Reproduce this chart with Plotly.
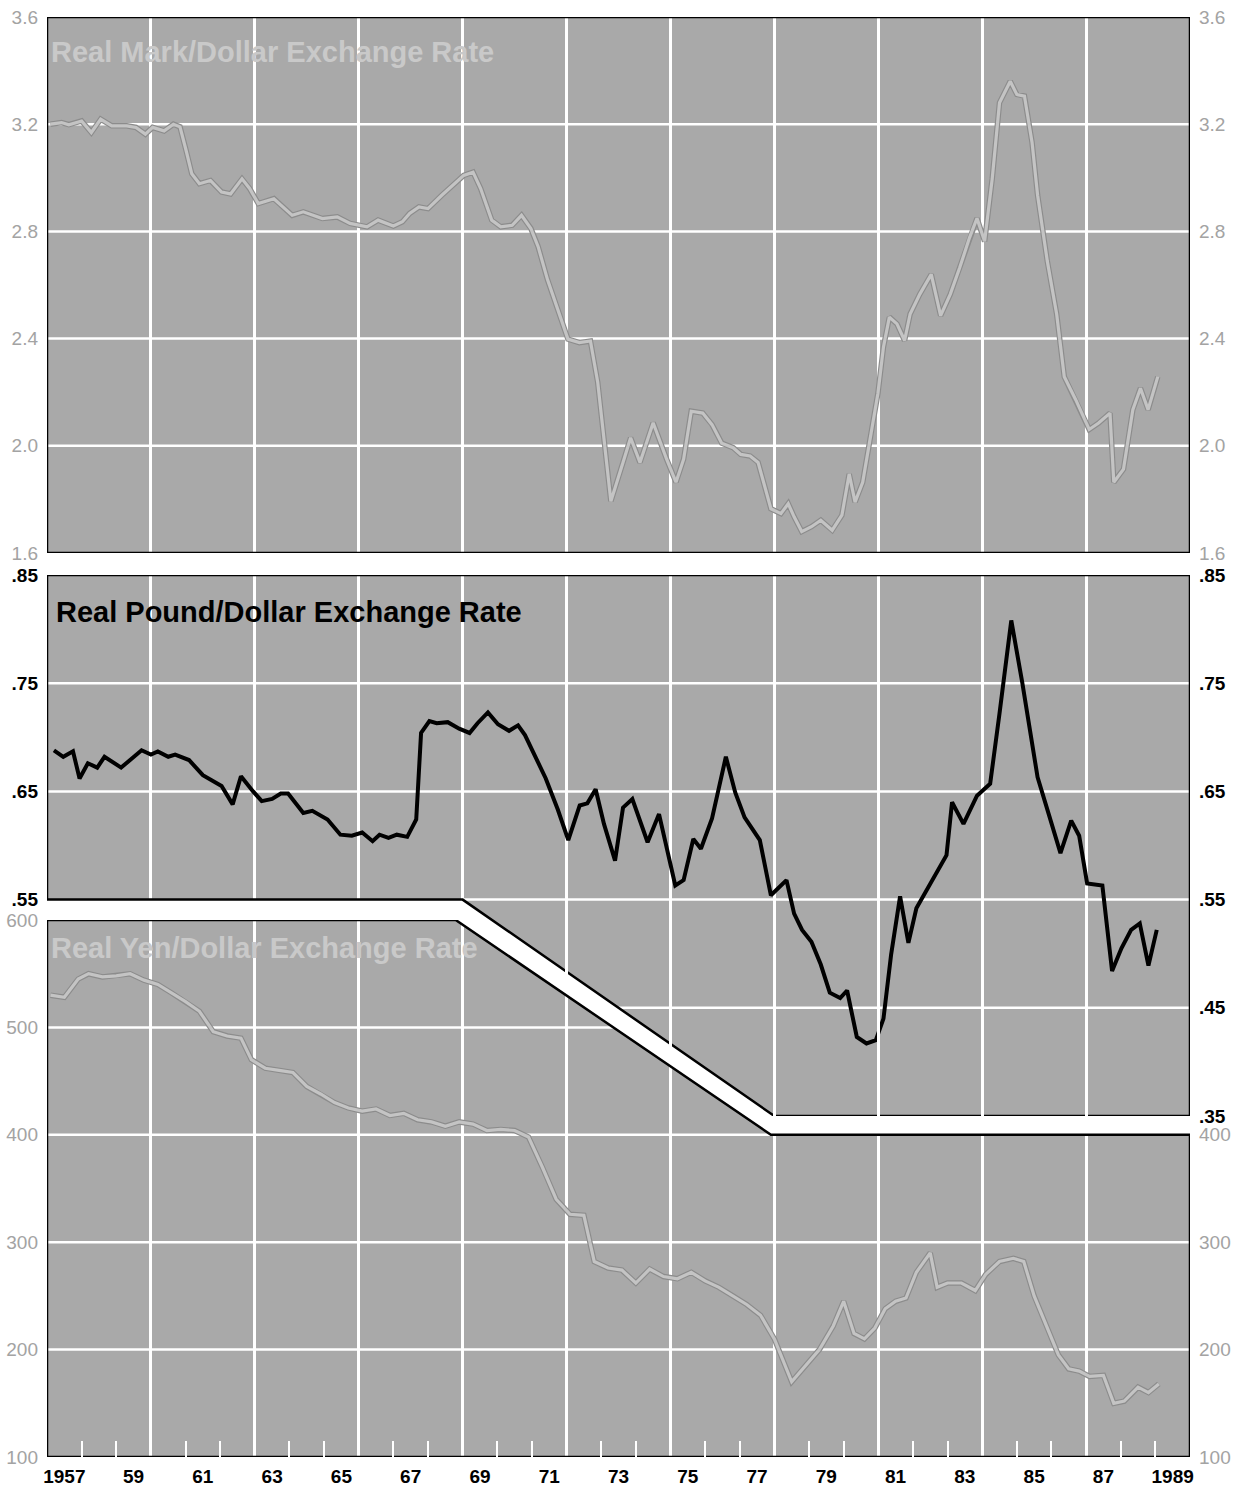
import plotly.graph_objects as go

# ---------------- data ----------------
mark_years = [1957.1, 1957.42, 1957.63, 1958.0, 1958.28, 1958.55, 1958.87, 1959.3, 1959.57, 1959.84,
              1960.05, 1960.38, 1960.65, 1960.84, 1961.02, 1961.18, 1961.4, 1961.72, 1962.04, 1962.3,
              1962.63, 1962.85, 1963.1, 1963.55, 1964.08, 1964.4, 1964.95, 1965.38, 1965.75, 1966.24,
              1966.56, 1967.0, 1967.26, 1967.47, 1967.74, 1968.0, 1968.39, 1968.76, 1969.03, 1969.3,
              1969.52, 1969.84, 1970.1, 1970.43, 1970.7, 1970.97, 1971.18, 1971.45, 1971.77, 1972.04,
              1972.37, 1972.69, 1972.9, 1973.12, 1973.28, 1973.63, 1973.85, 1974.12, 1974.5, 1974.89,
              1975.16, 1975.38, 1975.6, 1975.93, 1976.2, 1976.48, 1976.81, 1977.03, 1977.3, 1977.53,
              1977.7, 1977.9, 1978.19, 1978.4, 1978.57, 1978.79, 1979.07, 1979.34, 1979.67, 1979.95,
              1980.16, 1980.33, 1980.55, 1980.77, 1980.99, 1981.15, 1981.32, 1981.54, 1981.76, 1981.92,
              1982.2, 1982.53, 1982.8, 1983.08, 1983.35, 1983.63, 1983.85, 1984.07, 1984.29, 1984.5,
              1984.81, 1985.0, 1985.22, 1985.44, 1985.6, 1985.88, 1986.15, 1986.37, 1986.7, 1987.09,
              1987.36, 1987.69, 1987.8, 1988.08, 1988.35, 1988.57, 1988.79, 1989.07]
mark_values = [3.20, 3.206, 3.198, 3.212, 3.169, 3.219, 3.194, 3.194, 3.188, 3.163,
               3.188, 3.175, 3.20, 3.19, 3.10, 3.015, 2.978, 2.99, 2.947, 2.94,
               2.996, 2.96, 2.904, 2.922, 2.86, 2.873, 2.848, 2.854, 2.83, 2.817,
               2.842, 2.82, 2.836, 2.867, 2.891, 2.885, 2.934, 2.978, 3.009, 3.021,
               2.96, 2.842, 2.817, 2.823, 2.86, 2.811, 2.743, 2.62, 2.496, 2.398,
               2.385, 2.391, 2.237, 1.99, 1.793, 1.938, 2.03, 1.938, 2.086, 1.95,
               1.864, 1.95, 2.129, 2.122, 2.079, 2.01, 1.993, 1.968, 1.962, 1.938,
               1.858, 1.765, 1.747, 1.784, 1.735, 1.68, 1.698, 1.722, 1.685, 1.741,
               1.895, 1.79, 1.864, 2.024, 2.196, 2.369, 2.48, 2.455, 2.393, 2.492,
               2.566, 2.64, 2.486, 2.566, 2.664, 2.775, 2.849, 2.763, 2.997, 3.28,
               3.36, 3.311, 3.305, 3.132, 2.935, 2.689, 2.492, 2.258, 2.172, 2.061,
               2.085, 2.122, 1.864, 1.913, 2.135, 2.215, 2.135, 2.258]

pound_years = [1957.2, 1957.47, 1957.75, 1957.94, 1958.18, 1958.45, 1958.66, 1959.14, 1959.73, 1960.0,
               1960.2, 1960.5, 1960.7, 1961.1, 1961.5, 1962.04, 1962.36, 1962.6, 1962.95, 1963.2,
               1963.5, 1963.75, 1963.96, 1964.4, 1964.66, 1965.1, 1965.47, 1965.8, 1966.1, 1966.4,
               1966.6, 1966.86, 1967.1, 1967.4, 1967.66, 1967.8, 1968.04, 1968.25, 1968.57, 1968.9,
               1969.2, 1969.43, 1969.73, 1970.02, 1970.34, 1970.6, 1970.8, 1971.1, 1971.4, 1971.75,
               1972.05, 1972.38, 1972.6, 1972.84, 1973.08, 1973.4, 1973.63, 1973.9, 1974.34, 1974.67,
               1975.14, 1975.38, 1975.66, 1975.88, 1976.2, 1976.6, 1976.87, 1977.14, 1977.58, 1977.9,
               1978.35, 1978.57, 1978.8, 1979.07, 1979.34, 1979.6, 1979.9, 1980.1, 1980.38, 1980.66,
               1980.93, 1981.15, 1981.37, 1981.63, 1981.87, 1982.1, 1982.42, 1982.7, 1982.97, 1983.13,
               1983.46, 1983.85, 1984.23, 1984.5, 1984.84, 1985.16, 1985.6, 1985.93, 1986.26, 1986.57,
               1986.8, 1987.03, 1987.47, 1987.75, 1988.02, 1988.3, 1988.55, 1988.8, 1989.04]
pound_values = [0.688, 0.682, 0.687, 0.662, 0.676, 0.672, 0.682, 0.672, 0.688, 0.684,
                0.687, 0.682, 0.684, 0.679, 0.665, 0.655, 0.638, 0.664, 0.650, 0.641,
                0.643, 0.648, 0.648, 0.630, 0.632, 0.624, 0.610, 0.609, 0.612, 0.604,
                0.610, 0.607, 0.610, 0.608, 0.624, 0.704, 0.715, 0.713, 0.714, 0.708,
                0.704, 0.713, 0.723, 0.712, 0.706, 0.711, 0.702, 0.681, 0.662, 0.633,
                0.605, 0.637, 0.639, 0.652, 0.620, 0.586, 0.635, 0.643, 0.603, 0.629,
                0.563, 0.568, 0.606, 0.597, 0.625, 0.682, 0.649, 0.626, 0.605, 0.554,
                0.568, 0.537, 0.522, 0.511, 0.490, 0.464, 0.459, 0.466, 0.423, 0.417,
                0.420, 0.440, 0.499, 0.553, 0.510, 0.542, 0.560, 0.577, 0.591, 0.640,
                0.620, 0.646, 0.657, 0.722, 0.808, 0.750, 0.663, 0.628, 0.593, 0.623,
                0.609, 0.565, 0.563, 0.484, 0.505, 0.522, 0.528, 0.489, 0.522]

yen_years = [1957.1, 1957.5, 1957.9, 1958.2, 1958.6, 1959.0, 1959.4, 1959.8, 1960.2, 1960.6,
             1961.0, 1961.4, 1961.8, 1962.2, 1962.6, 1962.9, 1963.3, 1963.7, 1964.1, 1964.5,
             1964.9, 1965.3, 1965.7, 1966.1, 1966.5, 1966.9, 1967.3, 1967.7, 1968.1, 1968.5,
             1968.9, 1969.3, 1969.7, 1970.1, 1970.5, 1970.9, 1971.3, 1971.7, 1972.1, 1972.5,
             1972.8, 1973.2, 1973.6, 1974.0, 1974.4, 1974.8, 1975.2, 1975.6, 1976.0, 1976.4,
             1976.8, 1977.2, 1977.6, 1978.0, 1978.5, 1978.9, 1979.3, 1979.7, 1980.0, 1980.3,
             1980.6, 1980.9, 1981.2, 1981.5, 1981.8, 1982.1, 1982.5, 1982.7, 1983.0, 1983.4,
             1983.8, 1984.1, 1984.5, 1984.9, 1985.2, 1985.5, 1985.9, 1986.2, 1986.5, 1986.8,
             1987.1, 1987.5, 1987.8, 1988.1, 1988.5, 1988.8, 1989.1]
yen_values = [530, 528, 545, 550, 547, 548, 550, 544, 540, 532,
              524, 515, 496, 492, 490, 470, 462, 460, 458, 445,
              438, 430, 425, 422, 424, 418, 420, 414, 412, 408,
              412, 410, 404, 405, 404, 398, 370, 340, 326, 325,
              282, 276, 274, 262, 275, 268, 266, 272, 264, 258,
              250, 242, 232, 210, 170, 185, 200, 222, 245, 215,
              210, 220, 238, 245, 248, 272, 290, 258, 262, 262,
              255, 270, 282, 285, 282, 250, 218, 195, 182, 180,
              175, 176, 150, 152, 165, 160, 168]

year_label_pos = [1957.5 + 2 * i for i in range(17)]
year_label_text = ["1957"] + ["%02d" % (59 + 2 * i) for i in range(15)] + ["1989"]

mark_ticks = [1.6, 2.0, 2.4, 2.8, 3.2, 3.6]
pound_ticks_left = [0.55, 0.65, 0.75, 0.85]
pound_ticks_right = [0.35, 0.45, 0.55, 0.65, 0.75, 0.85]
yen_ticks_left = [100, 200, 300, 400, 500, 600]
yen_ticks_right = [100, 200, 300, 400]

# ---------------- styling ----------------
BG = "#a9a9a9"
GRAYLINE = "#c4c4c4"
GRAYEDGE = "#8c8c8c"
GRAYTXT = "#a3a3a3"
FONT = "Liberation Sans, Arial, sans-serif"
X0, X1 = 1957, 1990

fig = go.Figure()

fig.add_trace(go.Scatter(x=mark_years, y=mark_values, mode="lines", xaxis="x", yaxis="y",
                         line=dict(color=GRAYEDGE, width=5.5), hoverinfo="skip", showlegend=False))
fig.add_trace(go.Scatter(x=mark_years, y=mark_values, mode="lines", xaxis="x", yaxis="y",
                         line=dict(color=GRAYLINE, width=3.2), showlegend=False))
fig.add_trace(go.Scatter(x=pound_years, y=pound_values, mode="lines", xaxis="x", yaxis="y2",
                         line=dict(color="black", width=4), showlegend=False))
fig.add_trace(go.Scatter(x=yen_years, y=yen_values, mode="lines", xaxis="x", yaxis="y3",
                         line=dict(color=GRAYEDGE, width=5.5), hoverinfo="skip", showlegend=False))
fig.add_trace(go.Scatter(x=yen_years, y=yen_values, mode="lines", xaxis="x", yaxis="y3",
                         line=dict(color=GRAYLINE, width=3.2), showlegend=False))
# empty traces so the label axes are created
for xa, ya in [("x2", "y3"), ("x", "y4"), ("x", "y5"), ("x", "y6")]:
    fig.add_trace(go.Scatter(x=[None], y=[None], xaxis=xa, yaxis=ya, showlegend=False, hoverinfo="skip"))

# ---------------- panel shapes ----------------
mid_path = "M 1957,0.85 L 1990,0.85 L 1990,0.35 L 1978,0.35 L 1969,0.55 L 1957,0.55 Z"
bot_path = "M 1957,600 L 1968.8,600 L 1977.9,400 L 1990,400 L 1990,100 L 1957,100 Z"
shapes = [
    dict(type="rect", xref="x", yref="y", x0=X0, x1=X1, y0=1.6, y1=3.6, fillcolor=BG, line_width=0, layer="below"),
    dict(type="path", xref="x", yref="y2", path=mid_path, fillcolor=BG, line_width=0, layer="below"),
    dict(type="path", xref="x", yref="y3", path=bot_path, fillcolor=BG, line_width=0, layer="below"),
]
GW = 2.5
def hline(yref, y, xa, xb):
    return dict(type="line", xref="x", yref=yref, x0=xa, x1=xb, y0=y, y1=y,
                line=dict(color="white", width=GW), layer="below")
for v in [2.0, 2.4, 2.8, 3.2]:
    shapes.append(hline("y", v, X0, X1))
for v in [0.65, 0.75]:
    shapes.append(hline("y2", v, X0, X1))
shapes.append(hline("y2", 0.55, 1969, X1))
shapes.append(hline("y2", 0.45, 1973.5, X1))
shapes.append(hline("y3", 500, X0, 1973.35))
shapes.append(hline("y3", 400, X0, 1977.9))
for v in [200, 300]:
    shapes.append(hline("y3", v, X0, X1))
# borders
shapes += [
    dict(type="rect", xref="x", yref="y", x0=X0, x1=X1, y0=1.6, y1=3.6, fillcolor="rgba(0,0,0,0)",
         line=dict(color="black", width=2.5), layer="between"),
    dict(type="path", xref="x", yref="y2", path=mid_path, fillcolor="rgba(0,0,0,0)",
         line=dict(color="black", width=2.5), layer="between"),
    dict(type="path", xref="x", yref="y3", path=bot_path, fillcolor="rgba(0,0,0,0)",
         line=dict(color="black", width=2.5), layer="between"),
]

annotations = [
    dict(text="Real Mark/Dollar Exchange Rate", xref="x", yref="y", x=1957.05, y=3.47, xanchor="left",
         yanchor="middle", showarrow=False, font=dict(family=FONT, size=29, color="#c9c9c9", weight="bold")),
    dict(text="Real Pound/Dollar Exchange Rate", xref="x", yref="y2", x=1957.2, y=0.816, xanchor="left",
         yanchor="middle", showarrow=False, font=dict(family=FONT, size=29, color="black", weight="bold")),
    dict(text="Real Yen/Dollar Exchange Rate", xref="x", yref="y3", x=1957.05, y=574, xanchor="left",
         yanchor="middle", showarrow=False, font=dict(family=FONT, size=29, color="#c9c9c9", weight="bold")),
]

gray_font = dict(family=FONT, size=19, color=GRAYTXT)
black_font = dict(family=FONT, size=19, color="black", weight="bold")

def yax(domain, rng, vals, fmt, font, side="left", overlaying=None):
    d = dict(range=rng, tickmode="array", tickvals=vals, ticktext=[fmt(v) for v in vals],
             showgrid=False, zeroline=False, showline=False, ticks="", tickfont=font,
             side=side, anchor="x", fixedrange=True, ticklabelstandoff=8, automargin=False)
    if overlaying:
        d["overlaying"] = overlaying
    else:
        d["domain"] = domain
    return d

pfmt = lambda v: ("%.2f" % v)[1:]
mfmt = lambda v: "%.1f" % v
yfmt = lambda v: "%d" % v

D1 = [(1457 - 553) / 1440, 1.0]
D2 = [(1457 - 1116) / 1440, (1457 - 575) / 1440]
D3 = [0.0, (1457 - 920) / 1440]

fig.update_layout(
    width=1240, height=1492,
    margin=dict(l=47, r=50, t=17, b=35, autoexpand=False),
    paper_bgcolor="white", plot_bgcolor="rgba(0,0,0,0)",
    showlegend=False,
    xaxis=dict(range=[X0, X1], domain=[0, 1], anchor="y3", tickmode="linear", tick0=1960, dtick=3,
               showticklabels=False, ticks="", showgrid=True, gridcolor="white", gridwidth=GW,
               zeroline=False, showline=False, fixedrange=True, automargin=False,
               minor=dict(tickmode="linear", tick0=1957, dtick=1, ticks="inside", ticklen=16,
                          tickwidth=2, tickcolor="white", showgrid=False)),
    xaxis2=dict(range=[X0, X1], overlaying="x", anchor="y3", side="bottom", tickmode="array",
                tickvals=year_label_pos, ticktext=year_label_text, showgrid=False, zeroline=False,
                showline=False, ticks="", fixedrange=True, ticklabelstandoff=6, automargin=False,
                tickfont=dict(family=FONT, size=19, color="black", weight="bold")),
    yaxis=yax(D1, [1.6, 3.6], mark_ticks, mfmt, gray_font),
    yaxis2=yax(D2, [0.35, 0.85], pound_ticks_left, pfmt, black_font),
    yaxis3=yax(D3, [100, 600], yen_ticks_left, yfmt, gray_font),
    yaxis4=yax(None, [1.6, 3.6], mark_ticks, mfmt, gray_font, side="right", overlaying="y"),
    yaxis5=yax(None, [0.35, 0.85], pound_ticks_right, pfmt, black_font, side="right", overlaying="y2"),
    yaxis6=yax(None, [100, 600], yen_ticks_right, yfmt, gray_font, side="right", overlaying="y3"),
    shapes=shapes,
    annotations=annotations,
)

fig.write_html("out.html", config={"displayModeBar": False},
               post_script="document.body.style.margin='0px';")
